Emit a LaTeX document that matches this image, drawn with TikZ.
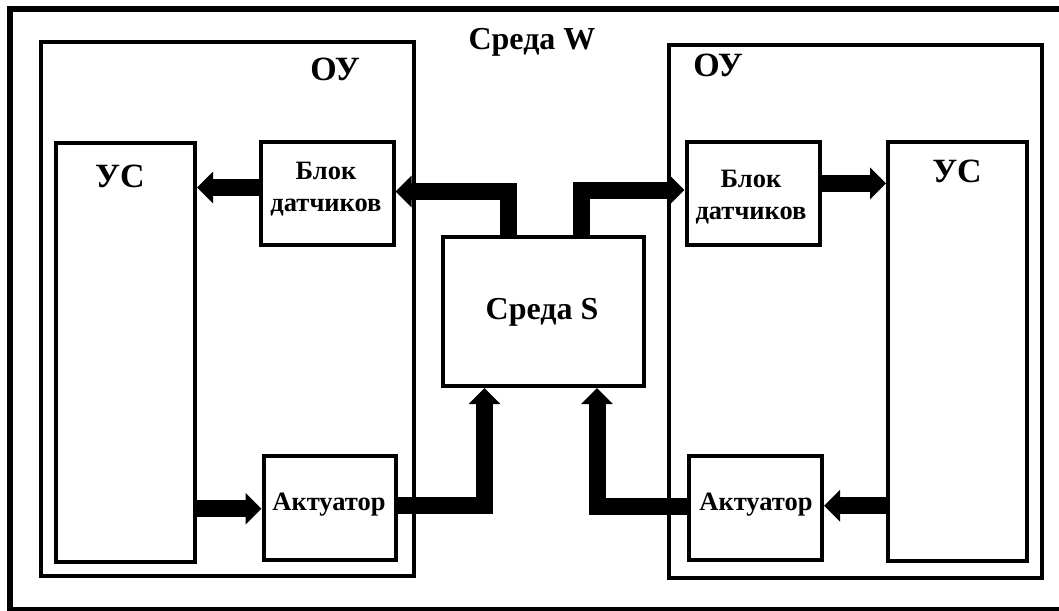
\documentclass[tikz,border=0pt]{standalone}
\usepackage{fontspec}
\setmainfont{Liberation Serif}
\usetikzlibrary{arrows.meta}
\begin{document}
\begin{tikzpicture}[x=1pt,y=-1pt,
  box/.style={draw, line width=4pt, inner sep=0pt, minimum width=#1},
  framebox/.style={draw, line width=6pt, inner sep=0pt},
  bigarrow/.style={line width=17pt, line join=miter, line cap=butt, -{Triangle[length=16pt,width=31pt]}},
  big/.style={font=\bfseries\fontsize{34}{38}\selectfont, inner sep=0pt, anchor=base},
  small/.style={font=\bfseries\fontsize{26.5}{31.5}\selectfont, inner sep=0pt, anchor=base, align=center}]
\useasboundingbox (0,0) rectangle (1059,610);
\clip (0,0) rectangle (1059,610);
% frame and boxes
\node[framebox, minimum width=1065pt, minimum height=601pt] (frame) at (542.5,309.5) {};
\node[box=373pt, minimum height=533.5pt] (ouL) at (227.5,308.75) {};
\node[box=373pt, minimum height=533pt] (ouR) at (855,311.5) {};
\node[box=139.5pt, minimum height=419pt] (usL) at (125.25,352.5) {};
\node[box=139pt, minimum height=418.5pt] (usR) at (957.5,351.25) {};
\node[box=132.5pt, minimum height=103pt] (bdL) at (327.25,193.5) {};
\node[box=133pt, minimum height=103pt] (bdR) at (753,193.5) {};
\node[box=132.5pt, minimum height=103.5pt] (akL) at (329.75,507.75) {};
\node[box=133pt, minimum height=103.5pt] (akR) at (755.5,507.75) {};
\node[box=201pt, minimum height=149pt] (sS) at (543,311.5) {};
% connectors
\draw[bigarrow] ([yshift=6pt]bdL.west) -- ([yshift=6pt]bdL.west -| usL.east);
\draw[bigarrow] ([xshift=-35pt]sS.north) |- ([yshift=2pt]bdL.east);
\draw[bigarrow] ([xshift=38pt]sS.north) |- ([yshift=3.5pt]bdR.west);
\draw[bigarrow] ([yshift=10.2pt]bdR.east) -- ([yshift=10.2pt]bdR.east -| usR.west);
\draw[bigarrow] ([yshift=-1pt]akL.west -| usL.east) -- ([yshift=-1pt]akL.west);
\draw[bigarrow] ([yshift=2.75pt]akL.east) -| ([xshift=-58.5pt]sS.south);
\draw[bigarrow] ([yshift=1.75pt]akR.west) -| ([xshift=54pt]sS.south);
\draw[bigarrow] ([yshift=2pt]akR.east -| usR.west) -- ([yshift=2pt]akR.east);
% labels
\node[big, font=\bfseries\fontsize{32}{36}\selectfont] (tW) at (532,49) {Среда W};
\node[big] (tOUL) at (335,81) {ОУ};
\node[big] (tOUR) at (718,76) {ОУ};
\node[big] (tUSL) at (120,187) {УС};
\node[big] (tUSR) at (957,182) {УС};
\node[big, font=\bfseries\fontsize{32}{36}\selectfont] (tS) at (542,319) {Среда S};
\node[small] (tBDL) at (326,211) {Блок\\датчиков};
\node[small] (tBDR) at (751,219) {Блок\\датчиков};
\node[small] (tAKL) at (329,510) {Актуатор};
\node[small] (tAKR) at (756,510) {Актуатор};
\end{tikzpicture}
\end{document}
